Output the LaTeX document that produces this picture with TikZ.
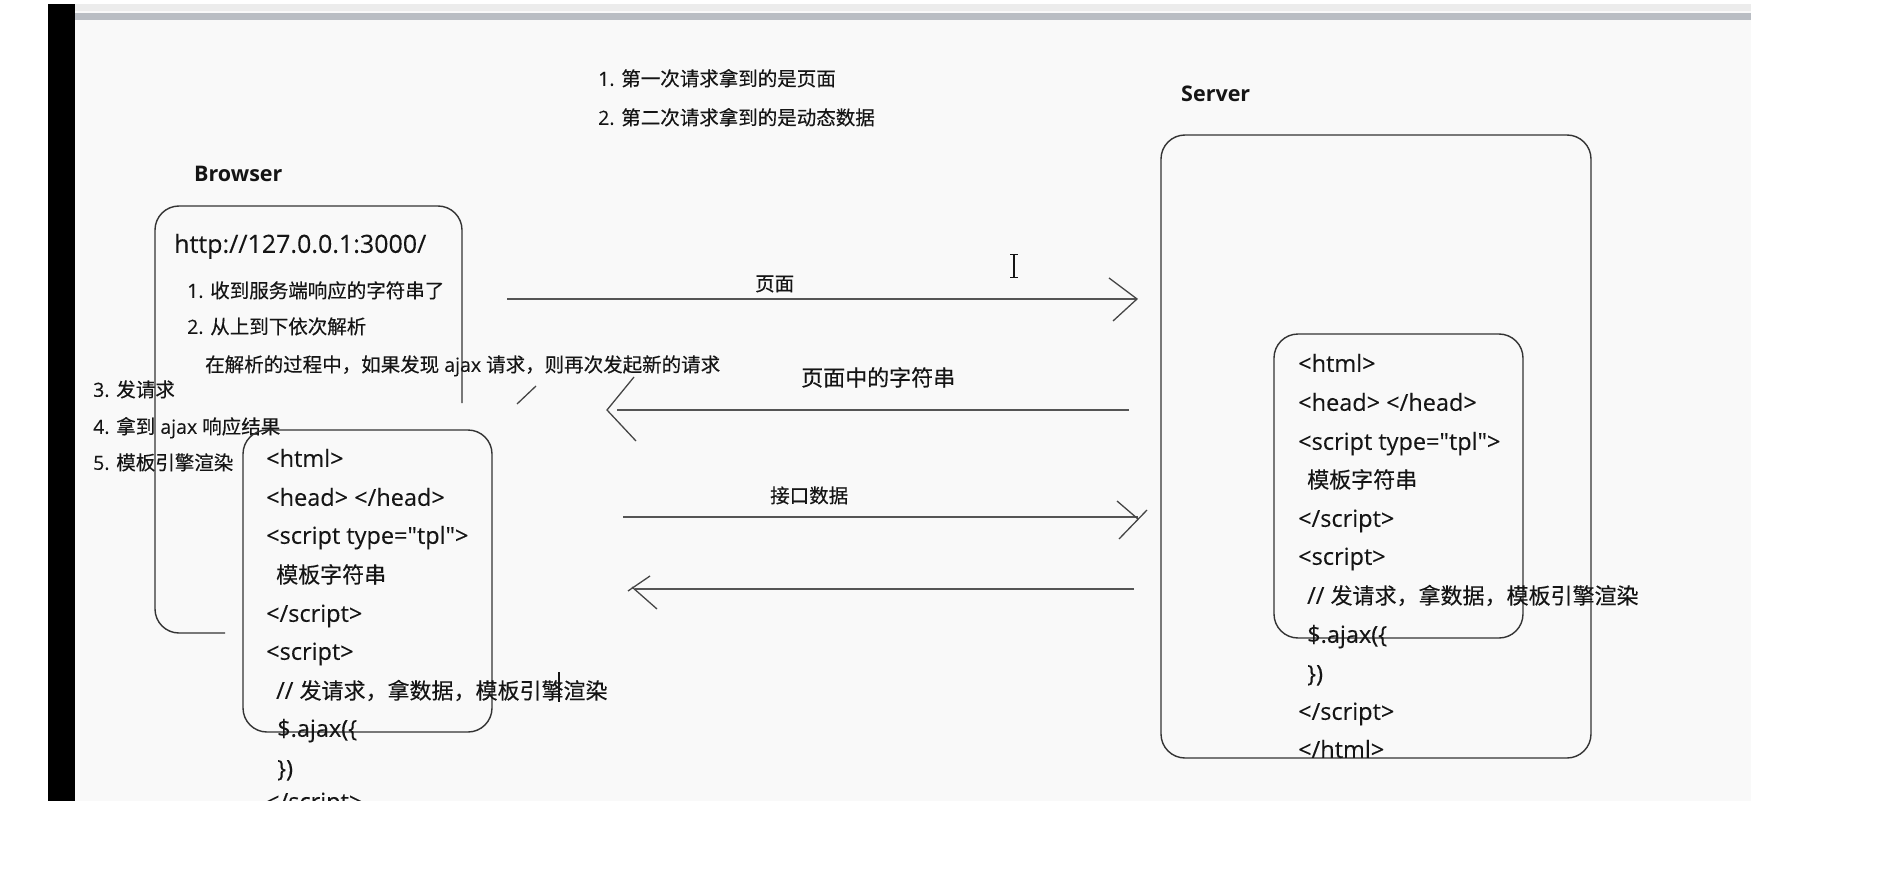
\documentclass[tikz,border=0pt]{standalone}
\usepackage{fontspec}
\setmainfont{Open Sans}[FakeBold=0.15, Ligatures=TeXOff]
\newfontfamily\cjk{Noto Sans CJK SC}[FakeBold=0.35]
\newfontfamily\ttlfont{Open Sans Bold}
\definecolor{txtc}{HTML}{151515}
\definecolor{boxc}{HTML}{333333}
\definecolor{arrc}{HTML}{555555}
\definecolor{headc}{HTML}{454545}
\definecolor{bgc}{HTML}{F9F9F9}
\definecolor{stripa}{HTML}{ECECEC}
\definecolor{stripb}{HTML}{B9BDC3}
\tikzset{
  txt/.style={anchor=west, inner sep=0pt, yshift=-6pt, text=txtc, font=\fontsize{19.5}{24}\selectfont, text height=0.88em, text depth=0.12em},
  code/.style={txt, font=\fontsize{23.5}{28}\selectfont},
  ttl/.style={txt, yshift=1pt, font=\ttlfont\fontsize{21.5}{26}\selectfont},
  big/.style={txt, font=\fontsize{22}{27}\selectfont},
  boxline/.style={draw=boxc, line width=1.4pt, rounded corners=24pt},
  arrline/.style={draw=arrc, line width=2.3pt},
  headline/.style={draw=headc, line width=1.3pt},
}
\newcommand{\cj}[1]{{\cjk\fontsize{22}{27}\selectfont #1}}
\begin{document}
\begin{tikzpicture}[x=1pt, y=-1pt]
\useasboundingbox (0,0) rectangle (1899,880);
\fill[white] (0,0) rectangle (1899,880);
% screenshot area
\fill[bgc] (75,4) rectangle (1751,801);
\fill[stripa] (75,4) rectangle (1751,11);
\fill[stripb] (75,13) rectangle (1751,20);
\fill[black] (48,4) rectangle (75,801);

% top notes
\node[txt] (n1) at (598,76) {1. {\cjk 第一次请求拿到的是页面}};
\node[txt] (n2) at (598,115) {2. {\cjk 第二次请求拿到的是动态数据}};

% titles
\node[ttl] (browser) at (194,173) {Browser};
\node[ttl] (server) at (1181,93) {Server};

% browser outer box (partly open)
\draw[boxline] (225,633) -- (155,633) -- (155,206) -- (462,206) -- (462,403);

\node[code, font=\fontsize{25}{30}\selectfont] (url) at (174,243) {http://127.0.0.1:3000/};
\node[txt] (b1) at (187,288) {1. {\cjk 收到服务端响应的字符串了}};
\node[txt] (b2) at (187,324) {2. {\cjk 从上到下依次解析}};
\node[txt] (b3) at (205,362) {{\cjk 在解析的过程中，如果发现} ajax {\cjk 请求，则再次发起新的请求}};
\node[txt] (s3) at (93,387) {3. {\cjk 发请求}};
\node[txt] (s4) at (93,424) {4. {\cjk 拿到} ajax {\cjk 响应结果}};
\node[txt] (s5) at (93,460) {5. {\cjk 模板引擎渲染}};

% browser inner box
\draw[boxline] (243,430) rectangle (492,732);
\node[code] (bh1) at (266,457) {<html>};
\node[code] (bh2) at (266,496) {<head> </head>};
\node[code] (bh3) at (266,534) {<script type="tpl">};
\node[code] (bh4) at (276,573) {\cj{模板字符串}};
\node[code] (bh5) at (266,612) {</script>};
\node[code] (bh6) at (266,650) {<script>};
\node[code] (bh7) at (276,689) {// \cj{发请求，拿数据，模板引擎渲染}};
\node[code] (bh8) at (277,727) {\$.ajax(\{};
\node[code] (bh9) at (277,767) {\})};
\node[code] (bh10) at (266,800) {</script>};
\coordinate (cur1) at (559,672);
\coordinate (cur2) at (559,702);
\draw[draw=txtc, line width=1.4pt] (cur1) -- (cur2);

% server boxes
\draw[boxline] (1161,135) rectangle (1591,758);
\draw[boxline] (1274,334) rectangle (1523,638);
\node[code] (sh1) at (1298,362) {<html>};
\node[code] (sh2) at (1298,401) {<head> </head>};
\node[code] (sh3) at (1298,440) {<script type="tpl">};
\node[code] (sh4) at (1307,478) {\cj{模板字符串}};
\node[code] (sh5) at (1298,517) {</script>};
\node[code] (sh6) at (1298,555) {<script>};
\node[code] (sh7) at (1307,594) {// \cj{发请求，拿数据，模板引擎渲染}};
\node[code] (sh8) at (1307,633) {\$.ajax(\{};
\node[code] (sh9) at (1307,672) {\})};
\node[code] (sh10) at (1298,710) {</script>};
\node[code] (sh11) at (1298,748) {</html>};

% I-beam mouse cursor
\coordinate (ib1) at (1014,254);
\coordinate (ib2) at (1014,277);
\draw[draw=txtc, line width=1.2pt] (ib1) -- (ib2);
\draw[draw=txtc, line width=1pt] ([xshift=-4pt]ib1) -- ([xshift=4pt]ib1);
\draw[draw=txtc, line width=1pt] ([xshift=-4pt]ib2) -- ([xshift=4pt]ib2);

% arrow 1: page
\node[txt] (l1) at (755,281) {\cjk 页面};
\coordinate (a1s) at (507,299);
\coordinate (a1e) at (1137,299);
\coordinate (a1u) at (1109,278);
\coordinate (a1d) at (1113,321);
\draw[arrline] (a1s) -- (a1e);
\draw[headline] (a1u) -- (a1e) -- (a1d);

% arrow 2: string in page
\node[big] (l2) at (801,376) {\cjk 页面中的字符串};
\coordinate (a2s) at (1129,410);
\coordinate (a2e) at (617,410);
\coordinate (a2t) at (607,410);
\coordinate (a2u) at (634,377);
\coordinate (a2d) at (636,441);
\draw[arrline] (a2s) -- (a2e);
\draw[headline] (a2u) -- (a2t) -- (a2d);
\coordinate (sl1) at (517,404);
\coordinate (sl2) at (536,386);
\draw[headline] (sl1) -- (sl2);

% arrow 3: interface data
\node[txt] (l3) at (770,493) {\cjk 接口数据};
\coordinate (a3s) at (623,517);
\coordinate (a3e) at (1138,517);
\coordinate (a3u) at (1117,501);
\coordinate (a3t) at (1138,519);
\coordinate (a3d) at (1119,539);
\coordinate (a3x) at (1147,510);
\draw[arrline] (a3s) -- (a3e);
\draw[headline] (a3u) -- (a3t);
\draw[headline] (a3d) -- (a3x);

% arrow 4: back
\coordinate (a4s) at (1134,589);
\coordinate (a4e) at (635,589);
\coordinate (a4u) at (650,576);
\coordinate (a4ut) at (628,591);
\coordinate (a4d) at (657,609);
\coordinate (a4dt) at (632,587);
\draw[arrline] (a4s) -- (a4e);
\draw[headline] (a4u) -- (a4ut);
\draw[headline] (a4d) -- (a4dt);

% cut-off bottom of screenshot
\fill[white] (0,801) rectangle (1899,880);
\end{tikzpicture}
\end{document}
